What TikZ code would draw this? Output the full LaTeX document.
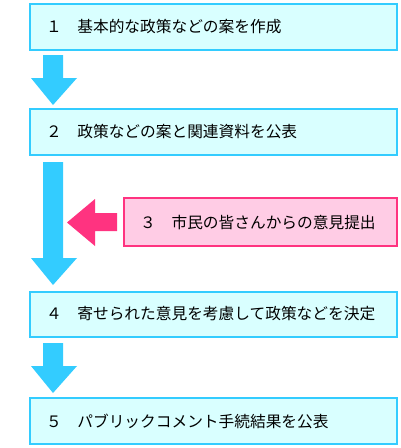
\documentclass[tikz,border=0pt]{standalone}
\usepackage{fontspec}
\setmainfont{Noto Sans CJK JP}
\definecolor{cyanline}{HTML}{33CCFF}
\definecolor{cyanfill}{HTML}{D9FFFF}
\definecolor{pinkline}{HTML}{FF3380}
\definecolor{pinkfill}{HTML}{FFCCE5}
\begin{document}
\begin{tikzpicture}[x=1pt,y=-1pt,
  stepbox/.style={draw=cyanline, fill=cyanfill, line width=2pt, anchor=west,
    inner xsep=16.5pt, inner ysep=0pt, align=left, text width=334pt,
    font=\fontsize{15.7}{18}\selectfont},
  inputbox/.style={stepbox, draw=pinkline, fill=pinkfill, text width=240pt},
  flowarrow/.style={fill=cyanline},
  inarrow/.style={fill=pinkline}]
\useasboundingbox (0,0) rectangle (400,448);
\node[stepbox, minimum height=46pt] (b1) at (28.5,26.5) {１　基本的な政策などの案を作成};
\node[stepbox, minimum height=46pt] (b2) at (28.5,132) {２　政策などの案と関連資料を公表};
\node[inputbox, minimum height=47.7pt] (b3) at (122.7,222.2) {３　市民の皆さんからの意見提出};
\node[stepbox, minimum height=45pt] (b4) at (28.5,314) {４　寄せられた意見を考慮して政策などを決定};
\node[stepbox, minimum height=46pt] (b5) at (28.5,421) {５　パブリックコメント手続結果を公表};
% arrows
\fill[flowarrow] (43,55) -- (63,55) -- (63,78) -- (77,78) -- (53,105) -- (31,78) -- (43,78) -- cycle;
\fill[flowarrow] (43,162) -- (63,162) -- (63,258) -- (77,258) -- (53,285) -- (31,258) -- (43,258) -- cycle;
\fill[flowarrow] (43,343) -- (63,343) -- (63,366) -- (77,366) -- (53,393) -- (31,366) -- (43,366) -- cycle;
\fill[inarrow] (117,213) -- (117,231) -- (95,231) -- (95,246) -- (67,222.5) -- (95,199) -- (95,213) -- cycle;
\end{tikzpicture}
\end{document}
